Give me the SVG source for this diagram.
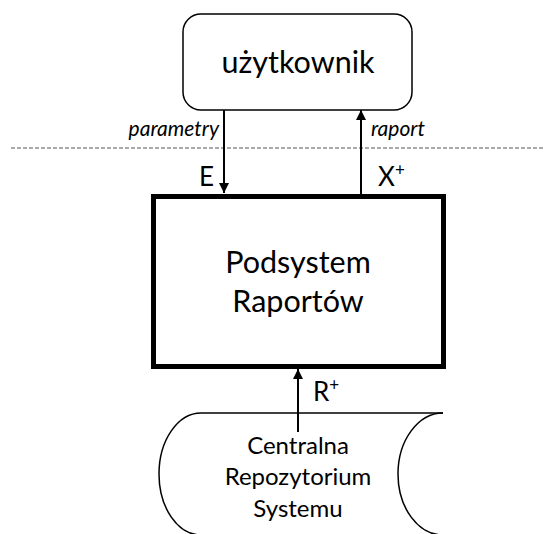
<svg xmlns="http://www.w3.org/2000/svg" width="544" height="534" viewBox="0 0 544 534">
<style>
text{font-family:Lato,"Open Sans","DejaVu Sans",sans-serif;fill:#000}
.big{font-size:30.5px}
.lbl{font-size:26px}
.sup{font-size:17px}
.it{font-size:21px;font-style:italic}
.db{font-size:24px}
.ln{stroke:#000;stroke-width:2;fill:none}
</style>
<defs>
<marker id="ah" viewBox="0 0 10 10" refX="10" refY="5" markerWidth="10" markerHeight="10" markerUnits="userSpaceOnUse" orient="auto">
<path d="M0,0 L10,5 L0,10 z" fill="#000"/>
</marker>
</defs>
<line x1="11" y1="148" x2="544" y2="148" stroke="#555" stroke-width="1" stroke-dasharray="4 2"/>
<g id="uzytkownik">
<rect x="183" y="14" width="229" height="96" rx="18" ry="18" fill="#fff" stroke="#000" stroke-width="1.5"/>
<text class="big" x="298" y="73" text-anchor="middle">użytkownik</text>
</g>
<g id="podsystem">
<rect x="153.5" y="196.5" width="290" height="170" fill="#fff" stroke="#000" stroke-width="5"/>
<text class="big" x="298" y="273" text-anchor="middle">Podsystem</text>
<text class="big" x="298" y="312" text-anchor="middle">Raportów</text>
</g>
<g id="repozytorium">
<path d="M443,413 L201,413 A42,61 0 0 0 201,535 L443,535" fill="#fff" stroke="#000" stroke-width="1.5"/>
<path d="M443,413 A45,61 0 0 0 443,535" fill="none" stroke="#000" stroke-width="1.5"/>
<text class="db" x="298" y="454" text-anchor="middle">Centralna</text>
<text class="db" x="298" y="485" text-anchor="middle">Repozytorium</text>
<text class="db" x="298" y="517" text-anchor="middle">Systemu</text>
</g>
<g id="connectors">
<line class="ln" x1="224" y1="110" x2="224" y2="193" marker-end="url(#ah)"/>
<line class="ln" x1="361" y1="194" x2="361" y2="110" marker-end="url(#ah)"/>
<line class="ln" x1="298" y1="432" x2="298" y2="369" marker-end="url(#ah)"/>
<text class="it" x="219" y="136" text-anchor="end">parametry</text>
<text class="it" x="371" y="136">raport</text>
<text class="lbl" x="199" y="186">E</text>
<text class="lbl" x="378" y="186">X<tspan class="sup" dy="-10">+</tspan></text>
<text class="lbl" x="313" y="401">R<tspan class="sup" dy="-10">+</tspan></text>
</g>
</svg>
